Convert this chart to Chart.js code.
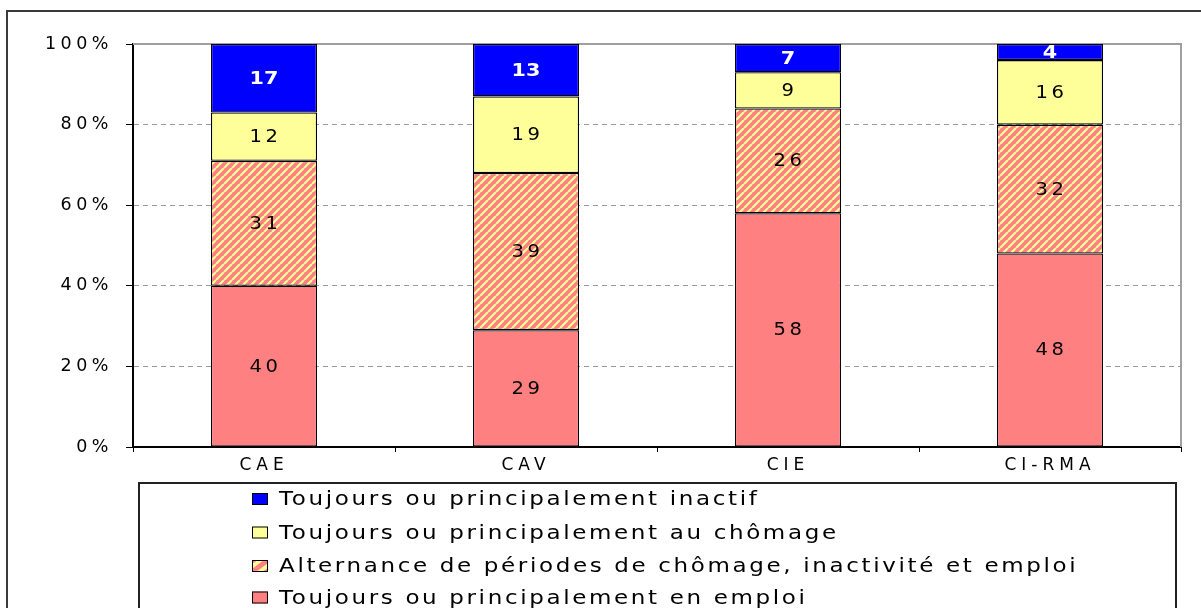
<!DOCTYPE html>
<html><head><meta charset="utf-8">
<script src="https://cdn.jsdelivr.net/npm/chart.js@4.4.0/dist/chart.umd.min.js"></script>
<style>html,body{margin:0;padding:0;background:#fff;overflow:hidden}#wrap{width:1201px;height:608px;position:relative}canvas{display:block}</style>
</head><body><div id="wrap"><canvas id="c" width="1201" height="608"></canvas></div>
<script>
const categories = ['CAE', 'CAV', 'CIE', 'CI-RMA'];
const seriesLabels = [
  'Toujours ou principalement en emploi',
  'Alternance de périodes de chômage, inactivité et emploi',
  'Toujours ou principalement au chômage',
  'Toujours ou principalement inactif'
];
const emploi = [40, 29, 58, 48];
const alternance = [31, 39, 26, 32];
const chomage = [12, 19, 9, 16];
const inactif = [17, 13, 7, 4];
const yTickValues = [0, 20, 40, 60, 80, 100];

const SALMON = '#FF8080', YELLOW = '#FFFF99', BLUE = '#0000FF';

function makeHatch() {
  const s = 8;
  const p = document.createElement('canvas'); p.width = s; p.height = s;
  const g = p.getContext('2d');
  g.fillStyle = SALMON; g.fillRect(0, 0, s, s);
  g.strokeStyle = YELLOW; g.lineWidth = 2.2;
  g.beginPath();
  for (let k = -1; k <= 1; k++) { g.moveTo(k * s, s); g.lineTo(k * s + s, 0); }
  g.stroke();
  return g.createPattern(p, 'repeat');
}
const hatch = makeHatch();

const LS = { x: '5px', y: '4.5px' };

function stretchedText(c, text, x, y, sx) {
  c.save();
  c.translate(x, y);
  c.scale(sx, 1);
  c.fillText(text, 0, 0);
  c.restore();
}

const framePlugin = {
  id: 'frame',
  beforeDraw(chart) {
    for (const id of ['x', 'y']) {
      const s = chart.scales[id];
      if (s && !s._lsWrapped) {
        const orig = s.drawLabels;
        s.drawLabels = function (area) {
          const c = this.ctx; const prev = c.letterSpacing;
          c.letterSpacing = LS[id]; orig.call(this, area); c.letterSpacing = prev || '0px';
        };
        s._lsWrapped = true;
      }
    }
    const c = chart.ctx;
    c.save();
    c.fillStyle = '#fff'; c.fillRect(0, 0, chart.width, chart.height);
    c.strokeStyle = '#3a3a3a'; c.lineWidth = 2;
    c.beginPath(); c.moveTo(7, 608); c.lineTo(7, 11); c.lineTo(1201, 11); c.stroke();
    c.restore();
  },
  beforeDatasetsDraw(chart) {
    const c = chart.ctx, a = chart.chartArea;
    c.save();
    c.strokeStyle = '#a0a0a0'; c.lineWidth = 2; c.setLineDash([]);
    c.beginPath(); c.moveTo(a.left, a.top); c.lineTo(a.right, a.top); c.lineTo(a.right, a.bottom); c.stroke();
    c.restore();
  },
  afterDraw(chart) {
    const c = chart.ctx;
    c.save();
    // legend box
    c.strokeStyle = '#222'; c.lineWidth = 2;
    c.strokeRect(139, 483, 1037, 200);
    const rows = [499, 532.5, 566, 597.5];
    const order = [3, 2, 1, 0];
    c.font = '20px "DejaVu Sans"';
    c.textBaseline = 'middle';
    c.letterSpacing = '2.3px';
    order.forEach((di, r) => {
      const ds = chart.data.datasets[di];
      const y = rows[r];
      const bx = 252, by = y - 6, bw = 16, bh = 12;
      if (di === 1) {
        c.fillStyle = SALMON; c.fillRect(bx, by, bw, bh);
        c.fillStyle = YELLOW;
        c.beginPath(); c.moveTo(bx + 4, by + bh); c.lineTo(bx + bw, by + 3); c.lineTo(bx + bw, by + 8); c.lineTo(bx + 10, by + bh); c.closePath(); c.fill();
        c.beginPath(); c.moveTo(bx, by + 9); c.lineTo(bx + 12, by); c.lineTo(bx + 6, by); c.lineTo(bx, by + 4); c.closePath(); c.fill();
      } else {
        c.fillStyle = ds.backgroundColor; c.fillRect(bx, by, bw, bh);
      }
      c.strokeStyle = '#000'; c.lineWidth = 1;
      c.strokeRect(bx + 0.5, by + 0.5, bw - 1, bh - 1);
      c.fillStyle = '#000';
      stretchedText(c, ds.label, 279, y + 1, 1.15);
    });
    c.restore();
  },
  afterDatasetsDraw(chart) {
    const c = chart.ctx, a = chart.chartArea;
    c.save();
    c.beginPath(); c.rect(a.left, a.top, a.right - a.left, a.bottom - a.top); c.clip();
    c.textAlign = 'center'; c.textBaseline = 'middle';
    chart.data.datasets.forEach((ds, di) => {
      const meta = chart.getDatasetMeta(di);
      meta.data.forEach((el, i) => {
        const v = ds.data[i];
        const y = (el.y + el.base) / 2;
        let off = 0;
        if (di === 3) {
          c.font = 'bold 18px "DejaVu Sans"'; c.fillStyle = '#fff'; c.letterSpacing = '0px';
        } else {
          c.font = '17px "DejaVu Sans"'; c.fillStyle = '#000'; c.letterSpacing = '3px'; off = 1.5;
        }
        stretchedText(c, String(v), el.x + off, y + 1, 1.15);
      });
    });
    c.restore();
  }
};

new Chart(document.getElementById('c'), {
  type: 'bar',
  data: {
    labels: categories,
    datasets: [
      { label: seriesLabels[0], data: emploi, backgroundColor: SALMON },
      { label: seriesLabels[1], data: alternance, backgroundColor: hatch },
      { label: seriesLabels[2], data: chomage, backgroundColor: YELLOW },
      { label: seriesLabels[3], data: inactif, backgroundColor: BLUE }
    ].map(d => Object.assign(d, { borderColor: '#000', borderWidth: 1.3, borderSkipped: false, barPercentage: 0.405, categoryPercentage: 1 }))
  },
  options: {
    responsive: false,
    devicePixelRatio: 1,
    animation: false,
    layout: { padding: { top: 44, right: 20, left: 0, bottom: 0 } },
    plugins: { legend: { display: false }, tooltip: { enabled: false }, title: { display: false } },
    scales: {
      x: {
        stacked: true,
        ticks: { font: { family: 'DejaVu Sans', size: 17 }, color: '#000', padding: 3, maxRotation: 0 },
        grid: { offset: true, drawOnChartArea: false, drawTicks: true, tickLength: 5, tickColor: '#000', tickWidth: 1 },
        border: { color: '#000', width: 2 },
        afterFit: s => { s.height = 161; }
      },
      y: {
        stacked: true, min: 0, max: 100,
        afterBuildTicks: s => { s.ticks = yTickValues.map(v => ({ value: v })); },
        ticks: { callback: v => v + '%', font: { family: 'DejaVu Sans', size: 17.5 }, color: '#000', padding: 13 },
        grid: {
          color: ctx => (ctx.tick && (ctx.tick.value === 0 || ctx.tick.value === 100)) ? 'rgba(0,0,0,0)' : '#9a9a9a',
          lineWidth: 1,
          tickColor: '#000', tickLength: 7, tickWidth: 1, tickBorderDash: []
        },
        border: { color: '#000', width: 2, dash: [5, 4] },
        afterFit: s => { s.width = 133; }
      }
    }
  },
  plugins: [framePlugin]
});
</script>
</body></html>
